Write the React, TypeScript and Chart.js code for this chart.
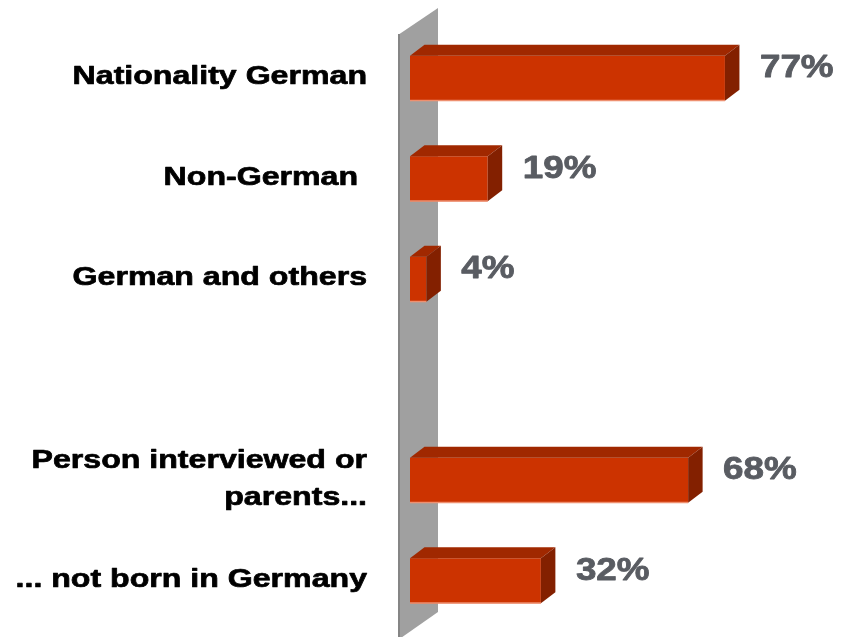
import React, { useEffect, useRef } from "react";
import { Chart, registerables } from "chart.js";

Chart.register(...registerables);

const categories: (string | string[])[] = [
  "Nationality German",
  "Non-German ",
  "German and others",
  "",
  ["Person interviewed or", "parents..."],
  "... not born in Germany",
];
const values: (number | null)[] = [77, 19, 4, null, 68, 32];
const valueLabels: string[] = ["77%", "19%", "4%", "", "68%", "32%"];

const FRONT = "#CC3300";
const TOP = "#A02800";
const SIDE = "#832000";
const WALL = "#A0A0A0";
const WALL_EDGE = "#858585";
const VALUE_COLOR = "#595C62";
const DX = 14.5;
const DY = 11;

function fillScaledText(ctx: any, text: string, x: number, y: number, sx: number, font: string, color: string, align: string, stroke: number) {
  ctx.save();
  ctx.translate(x, y);
  ctx.scale(sx, 1);
  ctx.font = font;
  ctx.fillStyle = color;
  ctx.strokeStyle = color;
  ctx.lineWidth = stroke;
  ctx.lineJoin = "round";
  ctx.textAlign = align;
  ctx.textBaseline = "middle";
  ctx.fillText(text, 0, 0);
  if (stroke > 0) ctx.strokeText(text, 0, 0);
  ctx.restore();
}

const decoPlugin = {
  id: "deco3d",
  beforeDatasetsDraw(chart: any) {
    const { ctx, chartArea } = chart;
    const x0 = chartArea.left - 12;
    const x1 = chartArea.left + 28;
    ctx.save();
    ctx.beginPath();
    ctx.moveTo(x0, chartArea.top + 7);
    ctx.lineTo(x1, chartArea.top - 20);
    ctx.lineTo(x1, chartArea.bottom - 19);
    ctx.lineTo(x0, chartArea.bottom + 9);
    ctx.closePath();
    ctx.fillStyle = WALL;
    ctx.fill();
    ctx.fillStyle = WALL_EDGE;
    ctx.fillRect(x0, chartArea.top + 6, 2, chartArea.bottom - chartArea.top + 10);
    ctx.restore();
  },
  afterDatasetsDraw(chart: any) {
    const { ctx } = chart;
    const meta = chart.getDatasetMeta(0);
    ctx.save();
    meta.data.forEach((bar: any, i: number) => {
      if (values[i] == null) return;
      const p = bar.getProps(["x", "y", "base", "height"], true);
      const left = Math.min(p.base, p.x);
      const right = Math.max(p.base, p.x);
      const top = p.y - p.height / 2;
      const bottom = p.y + p.height / 2;
      ctx.beginPath();
      ctx.moveTo(left, top);
      ctx.lineTo(left + DX, top - DY);
      ctx.lineTo(right + DX, top - DY);
      ctx.lineTo(right, top);
      ctx.closePath();
      ctx.fillStyle = TOP;
      ctx.fill();
      ctx.beginPath();
      ctx.moveTo(right, top);
      ctx.lineTo(right + DX, top - DY);
      ctx.lineTo(right + DX, bottom - DY);
      ctx.lineTo(right, bottom);
      ctx.closePath();
      ctx.fillStyle = SIDE;
      ctx.fill();
      ctx.fillStyle = "#EE9070";
      ctx.fillRect(left, bottom - 1, right - left, 1.5);
      fillScaledText(ctx, valueLabels[i], right + 35, p.y - 10, 1.15,
        "bold 32px 'Liberation Sans', Arial, sans-serif", VALUE_COLOR, "left", 0.8);
    });
    const yScale = chart.scales.y;
    const xRight = chart.chartArea.left - 43;
    categories.forEach((cat, i) => {
      const lines = Array.isArray(cat) ? cat : [cat];
      const y = yScale.getPixelForValue(i);
      const lh = 37;
      lines.forEach((line, j) => {
        const off = (j - (lines.length - 1) / 2) * lh - 1;
        fillScaledText(ctx, line, xRight, y + off, 1.235,
          "bold 26px 'Liberation Sans', Arial, sans-serif", "#000000", "right", 0.7);
      });
    });
    ctx.restore();
  },
};

export default function App() {
  const ref = useRef<HTMLCanvasElement | null>(null);
  useEffect(() => {
    if (!ref.current) return;
    const chart = new Chart(ref.current, {
      type: "bar",
      data: {
        labels: categories as any,
        datasets: [
          {
            data: values as any,
            backgroundColor: FRONT,
            borderWidth: 0,
            barPercentage: 0.448,
            categoryPercentage: 1,
          },
        ],
      },
      options: {
        indexAxis: "y",
        responsive: false,
        animation: false,
        events: [],
        layout: { padding: { left: 410, right: 31, top: 28, bottom: 6 } },
        plugins: {
          legend: { display: false },
          tooltip: { enabled: false },
          title: { display: false },
        },
        scales: {
          x: { display: false, min: 0, max: 100 },
          y: { display: false },
        },
      },
      plugins: [decoPlugin],
    });
    return () => chart.destroy();
  }, []);
  return (
    <div style={{ position: "fixed", left: 0, top: 0, width: 850, height: 637, background: "#fff" }}>
      <canvas ref={ref} width={850} height={637} style={{ display: "block" }} />
    </div>
  );
}
